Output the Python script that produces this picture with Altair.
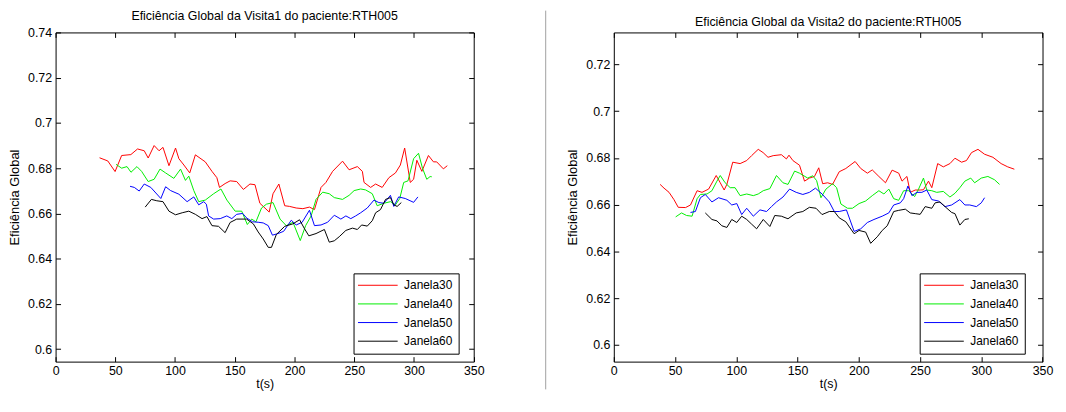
import altair as alt
import pandas as pd

SERIES = ["Janela30", "Janela40", "Janela50", "Janela60"]
COLORS = ["#ff0000", "#00ee00", "#0000ff", "#000000"]
XTICKS = [0, 50, 100, 150, 200, 250, 300, 350]
Y1TICKS = [0.6, 0.62, 0.64, 0.66, 0.68, 0.7, 0.72, 0.74]
Y2TICKS = [0.6, 0.62, 0.64, 0.66, 0.68, 0.7, 0.72]
TITLE1 = "Eficiência Global da Visita1 do paciente:RTH005"
TITLE2 = "Eficiência Global da Visita2 do paciente:RTH005"

# Visita 1: (t, eficiência)
V1_J30 = [(36.8,0.6846),(43.7,0.6832),(49.8,0.6785),(55.3,0.6856),(63,0.686),(68.6,0.6885),(74.2,0.6877),(77.5,0.6845),(82.5,0.690),(86.6,0.6877),(89.9,0.6892),(94.9,0.6811),(100.4,0.6889),(103.2,0.6842),(107.4,0.6814),(112.3,0.6779),(117,0.6859),(125.3,0.6828),(130.9,0.6786),(135,0.6758),(137.2,0.6715),(141.9,0.6732),(146.1,0.6744),(151.6,0.6741),(157.2,0.6706),(162.7,0.673),(166.9,0.6727),(171,0.6645),(178.8,0.6606),(182,0.6687),(186.9,0.673),(191.8,0.6634),(195.9,0.6631),(201.4,0.6624),(207,0.6621),(212.5,0.6628),(216.7,0.6617),(222.2,0.6715),(226.3,0.6737),(231.9,0.6786),(240.2,0.6831),(245.7,0.6793),(252.6,0.6807),(256.8,0.6786),(258.2,0.6737),(263.7,0.6715),(267.9,0.673),(273.4,0.6715),(279,0.6758),(284.5,0.6779),(288.6,0.6814),(292.2,0.6889),(296.9,0.6737),(299.7,0.6751),(302.4,0.6835),(306.6,0.6786),(312.1,0.6856),(316.3,0.6828),(319,0.6828),(324.6,0.6797),(327.9,0.6811)]
V1_J40 = [(50.6,0.6817),(55.3,0.68),(59.8,0.6807),(63.1,0.6782),(68.1,0.6807),(72,0.6786),(77.5,0.6741),(82.5,0.6751),(87.4,0.6796),(92.1,0.6779),(99,0.6755),(104.6,0.6796),(108.7,0.6746),(111.5,0.6765),(115.7,0.6701),(119.8,0.6652),(125.3,0.6659),(132.3,0.6687),(138.4,0.6708),(143.4,0.6659),(150.3,0.661),(155.8,0.661),(160.5,0.6551),(164.1,0.6575),(167.7,0.6563),(172.4,0.6624),(176.5,0.6641),(182,0.6648),(187.9,0.6575),(193.1,0.6546),(198.7,0.6561),(204.8,0.648),(209.3,0.6546),(213.9,0.6589),(218,0.6662),(223.6,0.6694),(229.1,0.6687),(233.3,0.667),(240.2,0.6662),(245.7,0.668),(249.9,0.6701),(255.4,0.6708),(259.5,0.6704),(265.1,0.6687),(269.2,0.6634),(274.8,0.6645),(280.3,0.6652),(284.5,0.6638),(288.1,0.6666),(291.4,0.6737),(295,0.6744),(299.7,0.6842),(303.8,0.6866),(307.1,0.68),(310.7,0.6751),(313.5,0.6763),(314.9,0.6762)]
V1_J50 = [(62.3,0.672),(65.9,0.6715),(70,0.6699),(74.2,0.673),(79.7,0.6715),(88.1,0.6666),(92.1,0.6718),(96.3,0.6701),(103.2,0.6685),(110.1,0.6652),(115.7,0.6673),(119.8,0.6638),(124,0.6652),(126.2,0.6641),(128.1,0.6589),(132.3,0.6575),(137.8,0.6577),(143.3,0.6589),(147.5,0.6577),(151.6,0.6596),(156.6,0.66),(159.9,0.658),(164.9,0.6563),(169.6,0.6561),(173.8,0.6558),(178,0.6546),(181.5,0.6504),(186.2,0.6511),(190.9,0.6521),(197.3,0.657),(201.4,0.6549),(206.4,0.6561),(212.5,0.6614),(216.7,0.6546),(222.2,0.6549),(227.7,0.6561),(233.3,0.6592),(238.8,0.6575),(243,0.6589),(247.1,0.6577),(251.2,0.6589),(255.4,0.6603),(260.9,0.6624),(266.5,0.6659),(270.6,0.6648),(274.8,0.6645),(280.3,0.668),(283.1,0.6631),(287.2,0.6673),(292.7,0.6666),(299.7,0.6649),(303.3,0.6673)]
V1_J60 = [(75,0.6628),(80.2,0.6662),(84.7,0.6656),(89.9,0.6652),(94.9,0.661),(100.4,0.6594),(106,0.6603),(111.5,0.661),(117,0.6596),(122.6,0.6577),(126.7,0.6586),(130.9,0.6546),(136.4,0.6543),(141.9,0.6515),(146.1,0.656),(151.6,0.6575),(159.9,0.6575),(165.5,0.6554),(169.6,0.6518),(173.8,0.6487),(178,0.645),(180.7,0.645),(184.8,0.6507),(191.8,0.6543),(198.7,0.6554),(204.2,0.6572),(208.4,0.6532),(212,0.6501),(218,0.6511),(225,0.6529),(229.1,0.6473),(233.3,0.6479),(237.4,0.6497),(243,0.6525),(248.5,0.6535),(252.6,0.6529),(256.2,0.6549),(260.9,0.6544),(265.1,0.6568),(267.9,0.6603),(272,0.6617),(276.2,0.6662),(280.3,0.667),(283.1,0.6638),(285.9,0.6631),(289.4,0.6648)]

# Visita 2: (t, eficiência)
V2_J30 = [(37.8,0.6687),(41,0.6671),(45.1,0.6653),(49.1,0.6622),(52.6,0.6589),(58.6,0.6588),(62.6,0.6599),(68,0.666),(72,0.6653),(77.4,0.6667),(83.6,0.6725),(86.9,0.6694),(90.1,0.6663),(92.3,0.6687),(97.1,0.6782),(103.1,0.6776),(108.5,0.6789),(112.5,0.681),(117.9,0.6837),(121.9,0.6823),(125.9,0.6803),(130.1,0.681),(136.8,0.6814),(140.9,0.6796),(143,0.6812),(146.2,0.6789),(151.6,0.6769),(155.7,0.6701),(159.7,0.6714),(163.8,0.6721),(167.3,0.6758),(170.5,0.669),(174.6,0.6694),(178.6,0.6687),(184,0.6741),(189.4,0.6755),(197,0.6785),(201.6,0.6755),(207,0.6735),(211,0.6749),(216.4,0.6721),(221.8,0.6694),(227.2,0.6748),(232.6,0.6735),(235.3,0.6701),(239.3,0.6721),(242,0.6653),(246.1,0.6663),(250.1,0.6663),(252.8,0.6664),(256.9,0.6701),(259.6,0.6673),(264.4,0.6776),(269,0.6762),(274.4,0.6776),(278.5,0.6799),(283.9,0.6782),(287.9,0.6789),(292,0.6823),(297.3,0.6837),(302.7,0.6816),(309.5,0.6803),(316.2,0.6776),(321.6,0.6762),(327,0.6752)]
V2_J40 = [(50.5,0.6548),(55.3,0.6565),(59.4,0.6554),(63.9,0.6551),(68,0.6626),(70.7,0.6644),(76.1,0.6646),(80.1,0.666),(84.2,0.6701),(86.9,0.6725),(90.9,0.6694),(95,0.6673),(99,0.6673),(103.1,0.6639),(108.5,0.6646),(113.9,0.6639),(117.9,0.6646),(122,0.666),(127.4,0.6669),(132.8,0.6725),(138.1,0.6694),(142.2,0.6687),(147.6,0.6744),(151.6,0.6735),(158.3,0.6714),(162.4,0.6724),(165.6,0.6703),(169.1,0.663),(173.2,0.6667),(178.6,0.669),(181.9,0.6673),(185.4,0.6603),(190.8,0.6585),(194.8,0.6585),(200.2,0.6605),(205.6,0.6616),(211,0.6639),(216.4,0.666),(220.5,0.6646),(224.5,0.6667),(228.5,0.6626),(232.6,0.6619),(236.6,0.666),(240.7,0.666),(245.6,0.6635),(248.8,0.6667),(252.8,0.6714),(255.5,0.6663),(259.6,0.666),(263.6,0.6653),(269,0.6657),(274.4,0.6633),(278.5,0.6649),(282.5,0.6673),(286.6,0.6701),(291.4,0.6714),(294.6,0.6694),(300,0.6714),(305.4,0.6721),(310.8,0.6707),(314.9,0.6687)]
V2_J50 = [(62.6,0.6567),(66.6,0.6571),(70.7,0.663),(74.7,0.6644),(80.1,0.6612),(85.5,0.663),(92.3,0.6619),(96.3,0.6599),(100.4,0.6605),(104.4,0.6558),(108.5,0.6585),(113.9,0.6551),(119.3,0.6578),(124.7,0.6571),(128.7,0.6592),(132.8,0.6612),(138.1,0.6633),(143.5,0.6667),(148.9,0.6653),(154.3,0.6644),(159.7,0.6653),(164.6,0.6671),(170,0.6646),(175.9,0.6612),(180,0.6571),(184,0.6571),(189.9,0.6578),(196.2,0.6486),(201.6,0.6497),(207,0.6524),(212.4,0.6537),(219.1,0.6551),(224.5,0.6565),(228.5,0.6599),(233.9,0.6608),(236.6,0.6626),(240.1,0.668),(243.4,0.6639),(247.4,0.6653),(251.5,0.6653),(255.5,0.6663),(259.6,0.6622),(265,0.6616),(270.4,0.6592),(275.8,0.6599),(282.5,0.6622),(286.6,0.6599),(290.6,0.6599),(296,0.6592),(300,0.6608),(302.7,0.663)]
V2_J60 = [(74.7,0.6565),(80.1,0.6537),(84.2,0.6531),(88.2,0.651),(92.3,0.6503),(96.3,0.6537),(100.4,0.6524),(104.4,0.6551),(108.5,0.6537),(112.5,0.6517),(116.6,0.6497),(122,0.6537),(127.4,0.6507),(131.4,0.6554),(136.8,0.6551),(142.2,0.654),(148.9,0.6565),(154.3,0.6571),(159.7,0.6589),(165.1,0.6585),(170,0.6558),(175.9,0.6571),(180,0.6571),(184,0.6544),(189.4,0.6527),(196.2,0.6476),(200.2,0.649),(205.6,0.6483),(209.7,0.6435),(215.1,0.6463),(219.1,0.649),(223.2,0.651),(228.5,0.6571),(232.6,0.6576),(238,0.6581),(242,0.6565),(246.1,0.6562),(250.1,0.6559),(254.2,0.6592),(259.6,0.6585),(262.3,0.6608),(266.3,0.6612),(270.4,0.6592),(275.8,0.6567),(278.5,0.6562),(282.5,0.6513),(286.6,0.6537),(289.8,0.654)]

FONT = "Liberation Sans, Arial, sans-serif"


def frame(series_lists):
    rows = []
    for name, pts in zip(SERIES, series_lists):
        for i, (t, v) in enumerate(pts):
            rows.append({"serie": name, "t": t, "v": v, "i": i})
    return pd.DataFrame(rows)


def panel(df, title, ydom, yticks, w, h, legx, legy):
    xs = alt.Scale(domain=[0, 350], nice=False, zero=False)
    ys = alt.Scale(domain=ydom, nice=False, zero=False)
    base = alt.Chart(df)
    lines = base.mark_line(strokeWidth=1, clip=True).encode(
        x=alt.X("t:Q", scale=xs,
                axis=alt.Axis(values=XTICKS, title="t(s)", orient="bottom", offset=-5,
                              tickSize=5, domain=False, grid=False, labelPadding=2.5,
                              titlePadding=1.5, labelFontSize=12.5, titleFontSize=12.5,
                              labelFlush=False, minExtent=0)),
        y=alt.Y("v:Q", scale=ys,
                axis=alt.Axis(values=yticks, format=".2~f", title="Eficiência Global",
                              orient="left", offset=-5, tickSize=5, domain=False,
                              grid=False, labelPadding=4, titlePadding=6,
                              labelFontSize=12.5, titleFontSize=13, labelFlush=False,
                              minExtent=0)),
        color=alt.Color("serie:N", scale=alt.Scale(domain=SERIES, range=COLORS),
                        legend=alt.Legend(orient="none", legendX=legx, legendY=legy,
                                          title=None, symbolType="M-4,0H4", symbolSize=100,
                                          symbolStrokeWidth=1, symbolFillColor="transparent",
                                          symbolOffset=12.5, labelFontSize=12,
                                          labelFont=FONT, labelOffset=20.5,
                                          strokeColor="black", fillColor="white",
                                          padding=6, rowPadding=6.8)),
        order="i:Q",
    )
    ticks = base.mark_line(opacity=0).encode(
        x=alt.X("t:Q", scale=xs,
                axis=alt.Axis(values=XTICKS, title=None, orient="top", offset=-5,
                              tickSize=5, domain=False, grid=False, labels=False,
                              minExtent=0, maxExtent=0)),
        y=alt.Y("v:Q", scale=ys,
                axis=alt.Axis(values=yticks, title=None, orient="right", offset=-5,
                              tickSize=5, domain=False, grid=False, labels=False,
                              minExtent=0, maxExtent=0)),
        detail="serie:N",
    )
    return alt.layer(lines, ticks).resolve_axis(x="independent", y="independent").properties(
        width=w, height=h, title=title, view=alt.ViewBackground(stroke="black", strokeWidth=1)
    )


df1 = frame([V1_J30, V1_J40, V1_J50, V1_J60])
df2 = frame([V2_J30, V2_J40, V2_J50, V2_J60])

H = 332
GAP = 60
left = panel(df1, TITLE1, [0.5945, 0.74], Y1TICKS, 421.7, H, 300.5, 243)
right = panel(df2, TITLE2, [0.5929, 0.7337], Y2TICKS, 432.4, H, 308.5, 243)
divider = alt.Chart(pd.DataFrame({"k": [0]})).mark_rule(
    color="#a0a0a0", strokeWidth=1
).encode(x=alt.value(12.3), y=alt.value(-22), y2=alt.value(H + 28)).properties(
    width=20.1, height=H, view=alt.ViewBackground(stroke="transparent")
)

chart = alt.hconcat(left, divider, right, spacing=GAP, bounds="flush").resolve_scale(
    x="independent", y="independent", color="independent"
).properties(
    padding={"left": 0, "top": 0, "right": 4, "bottom": 0}
).configure_axis(
    labelFont=FONT, titleFont=FONT, labelColor="black", titleColor="black",
    tickColor="black", titleFontWeight="normal"
).configure_title(
    font=FONT, fontSize=12.5, fontWeight="normal", anchor="middle", frame="group",
    offset=4, color="black"
)

chart.save("out.html", embed_options={"renderer": "svg", "actions": False})
